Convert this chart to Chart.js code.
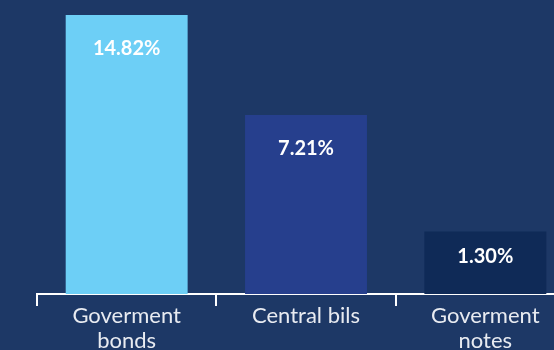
<!DOCTYPE html>
<html><head><meta charset="utf-8">
<script src="https://cdn.jsdelivr.net/npm/chart.js@4.4.1/dist/chart.umd.min.js"></script>
<style>
html,body{margin:0;padding:0;background:#1d3866;overflow:hidden;width:554px;height:350px;}
#wrap{position:relative;width:582px;height:354px;}
</style></head><body>
<div id="wrap"><canvas id="c" width="582" height="354"></canvas></div>
<script>
// Holdings by instrument type
const categories = [['Goverment', 'bonds'], ['Central bils'], ['Goverment', 'notes']];
const shares = [14.82, 7.21, 1.30];
const barColors = ['#6dcff6', '#263f8d', '#0f2a57'];
const valueLabels = shares.map(v => v.toFixed(2) + '%');

// Power-law value axis (bar height grows with value^EXP)
const EXP = 0.615;
class PowerScale extends Chart.LinearScale {
  getPixelForValue(value) {
    const lo = Math.pow(this.min, EXP), hi = Math.pow(this.max, EXP);
    return this.getPixelForDecimal((Math.pow(value, EXP) - lo) / (hi - lo));
  }
  getValueForPixel(pixel) {
    const lo = Math.pow(this.min, EXP), hi = Math.pow(this.max, EXP);
    return Math.pow(lo + this.getDecimalForPixel(pixel) * (hi - lo), 1 / EXP);
  }
}
PowerScale.id = 'power';
PowerScale.defaults = Chart.LinearScale.defaults;
Chart.register(PowerScale);

// Percent labels written inside each bar, near its top
const valueLabelPlugin = {
  id: 'valueLabels',
  afterDatasetsDraw(chart) {
    const ctx = chart.ctx;
    const meta = chart.getDatasetMeta(0);
    ctx.save();
    ctx.font = 'bold 20px Lato';
    ctx.fillStyle = '#ffffff';
    ctx.textAlign = 'center';
    ctx.textBaseline = 'middle';
    meta.data.forEach((bar, i) => {
      const h = bar.base - bar.y;
      ctx.fillText(valueLabels[i], bar.x, bar.y + Math.min(34, h * 0.4));
    });
    ctx.restore();
  }
};

new Chart(document.getElementById('c'), {
  type: 'bar',
  data: {
    labels: categories,
    datasets: [{
      data: shares,
      backgroundColor: barColors,
      borderWidth: 0,
      barPercentage: 0.68,
      categoryPercentage: 1
    }]
  },
  options: {
    responsive: false,
    animation: false,
    layout: { padding: { left: 37, right: 7, top: 0, bottom: 0 } },
    plugins: { legend: { display: false }, tooltip: { enabled: false } },
    scales: {
      x: {
        afterFit(scale) { scale.height = 60; },
        border: { display: true, color: '#ffffff', width: 2 },
        grid: { display: true, drawOnChartArea: false, drawTicks: true, tickLength: 12, color: '#ffffff', lineWidth: 2 },
        ticks: {
          color: '#e8ebf1',
          font: { family: 'Lato', size: 22, weight: 400, lineHeight: '25px' },
          padding: -3,
          maxRotation: 0,
          autoSkip: false
        }
      },
      y: { type: 'power', display: false, min: 0, max: 16.14 }
    }
  },
  plugins: [valueLabelPlugin]
});
</script>
</body></html>
